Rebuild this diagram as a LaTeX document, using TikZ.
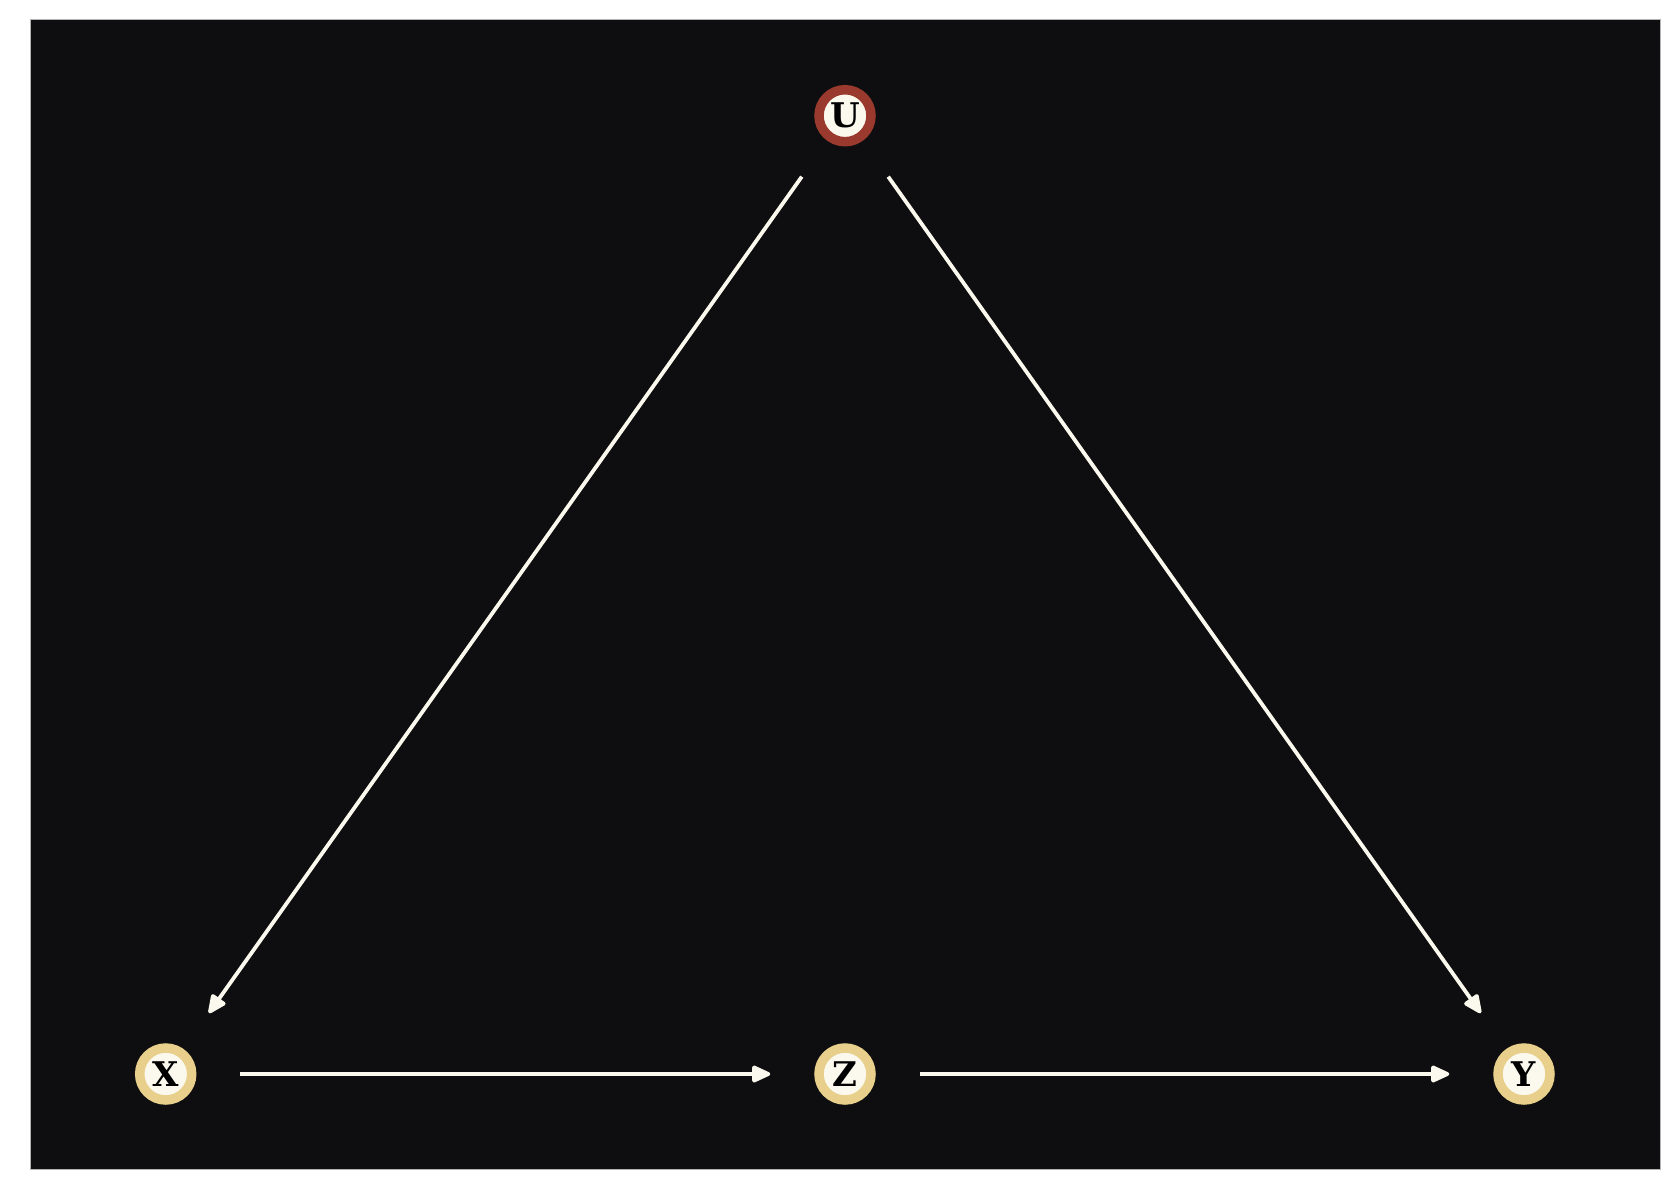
\documentclass[tikz,border=0pt]{standalone}
\usepackage{fontspec}
\newfontfamily\labelfont{DejaVu Serif}
\usetikzlibrary{arrows.meta}
\definecolor{bgdark}{HTML}{0E0E10}
\definecolor{cream}{HTML}{FBF9EE}
\definecolor{ringred}{HTML}{9A3A2E}
\definecolor{ringgold}{HTML}{E8D08C}
\tikzset{
  var/.style={circle, minimum size=52pt, inner sep=0pt, line width=9.5pt, fill=cream, draw=ringgold,
    font=\labelfont\bfseries\fontsize{34}{34}\selectfont, text=black},
  latent/.style={var, draw=ringred},
  edge/.style={draw=cream, line width=3.8pt, -{Triangle[length=21pt,width=18pt,round]}, shorten <=44pt, shorten >=44pt}
}
\begin{document}
\begin{tikzpicture}[x=1pt,y=-1pt]
\useasboundingbox (0,0) rectangle (1680,1200);
\fill[white] (0,0) rectangle (1680,1200);
\draw[fill=bgdark, draw=gray!60, line width=1pt] (30,19) rectangle (1660,1169);
\node[latent] (U) at (845,115.7) {U};
\node[var] (X) at (165.7,1074) {X};
\node[var] (Z) at (845,1074) {Z};
\node[var] (Y) at (1524,1074) {Y};
\draw[edge] (U) -- (X);
\draw[edge] (U) -- (Y);
\draw[edge] (X) -- (Z);
\draw[edge] (Z) -- (Y);
\end{tikzpicture}
\end{document}
